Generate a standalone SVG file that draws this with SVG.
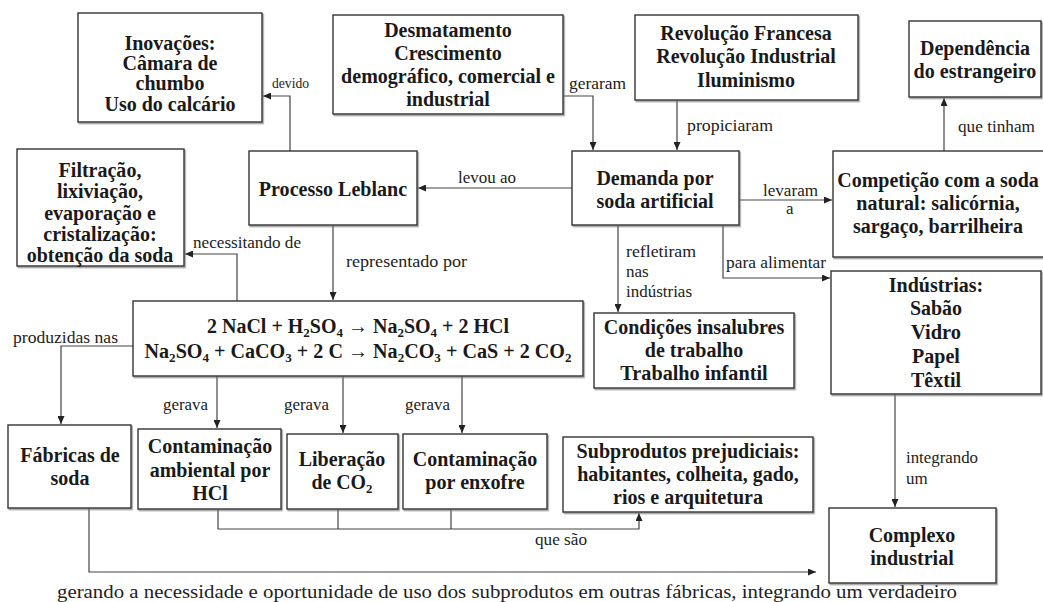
<svg xmlns="http://www.w3.org/2000/svg" width="1043" height="602" viewBox="0 0 1043 602" font-family="'Liberation Serif', serif">
<style>
.box{fill:#fff;stroke:#333;stroke-width:1.4;filter:url(#sh)}
.bt{font-family:'Liberation Serif',serif;font-weight:bold;font-size:20px;fill:#1a1a1a;text-anchor:middle}
.lb{font-family:'Liberation Serif',serif;font-size:17px;fill:#222}
.c{fill:none;stroke:#444;stroke-width:1.2}
.a{marker-end:url(#ah)}
</style>
<defs>
<marker id="ah" markerUnits="userSpaceOnUse" markerWidth="9" markerHeight="7" refX="8" refY="3.5" orient="auto">
<path d="M0,0 L8,3.5 L0,7 z" fill="#222"/>
</marker>
<filter id="sh" x="-5%" y="-5%" width="110%" height="115%">
<feDropShadow dx="1.2" dy="1.5" stdDeviation="0.7" flood-color="#777" flood-opacity="0.7"/>
</filter>
</defs>
<rect width="1043" height="602" fill="#fff"/>

<g id="connectors">
<path class="c a" d="M290,151 V96 H263"/>
<path class="c a" d="M563,96 H593 V150"/>
<path class="c a" d="M677,100 V150"/>
<path class="c a" d="M572,188 H418"/>
<path class="c a" d="M739,200 H832"/>
<path class="c a" d="M944,151 V98"/>
<path class="c a" d="M723,225 V278 H830"/>
<path class="c a" d="M618,225 V312"/>
<path class="c a" d="M333,225 V300"/>
<path class="c a" d="M237,301 V254 H185"/>
<path class="c a" d="M133,346 H61 V424"/>
<path class="c a" d="M217,376 V428"/>
<path class="c a" d="M343,376 V433"/>
<path class="c a" d="M462,376 V433"/>
<path class="c a" d="M218,509 V529 H639 V513"/>
<path class="c" d="M338,509 V529"/>
<path class="c" d="M451,509 V529"/>
<path class="c a" d="M89,508 V572 H816"/>
<path class="c a" d="M895,394 V507"/>
<text class="lb" x="272" y="88" style="font-size:14px" textLength="37" lengthAdjust="spacingAndGlyphs">devido</text>
<text class="lb" x="569" y="89" textLength="57" lengthAdjust="spacingAndGlyphs">geraram</text>
<text class="lb" x="687" y="131" textLength="86" lengthAdjust="spacingAndGlyphs">propiciaram</text>
<text class="lb" x="458" y="183" textLength="58" lengthAdjust="spacingAndGlyphs">levou ao</text>
<text class="lb" x="763" y="196" textLength="55" lengthAdjust="spacingAndGlyphs">levaram</text>
<text class="lb" x="786" y="214" textLength="7.5" lengthAdjust="spacingAndGlyphs">a</text>
<text class="lb" x="958" y="132" textLength="77" lengthAdjust="spacingAndGlyphs">que tinham</text>
<text class="lb" x="193" y="248" textLength="108" lengthAdjust="spacingAndGlyphs">necessitando  de</text>
<text class="lb" x="346" y="267" textLength="121" lengthAdjust="spacingAndGlyphs">representado  por</text>
<text class="lb" x="626" y="257" textLength="70" lengthAdjust="spacingAndGlyphs">refletiram</text>
<text class="lb" x="626" y="277" textLength="22.7" lengthAdjust="spacingAndGlyphs">nas</text>
<text class="lb" x="626" y="297" textLength="66" lengthAdjust="spacingAndGlyphs">indústrias</text>
<text class="lb" x="726" y="268" textLength="100" lengthAdjust="spacingAndGlyphs">para alimentar</text>
<text class="lb" x="13" y="343" textLength="105" lengthAdjust="spacingAndGlyphs">produzidas nas</text>
<text class="lb" x="163" y="410" textLength="45" lengthAdjust="spacingAndGlyphs">gerava</text>
<text class="lb" x="284" y="410" textLength="45" lengthAdjust="spacingAndGlyphs">gerava</text>
<text class="lb" x="405" y="410" textLength="45" lengthAdjust="spacingAndGlyphs">gerava</text>
<text class="lb" x="535" y="545" textLength="52" lengthAdjust="spacingAndGlyphs">que são</text>
<text class="lb" x="906" y="463" textLength="72" lengthAdjust="spacingAndGlyphs">integrando</text>
<text class="lb" x="906" y="484" textLength="21.7" lengthAdjust="spacingAndGlyphs">um</text>
<text class="lb" x="57" y="598" style="font-size:18px" textLength="900" lengthAdjust="spacingAndGlyphs">gerando a necessidade  e oportunidade de uso dos subprodutos em outras fábricas, integrando  um verdadeiro</text>
</g>

<g id="inovacoes">
<rect class="box" x="78" y="13" width="184" height="109"/>
<text class="bt" x="170" y="50" textLength="91.1" lengthAdjust="spacingAndGlyphs">Inovações:</text>
<text class="bt" x="170" y="70" textLength="95" lengthAdjust="spacingAndGlyphs">Câmara de</text>
<text class="bt" x="170" y="90" textLength="68.9" lengthAdjust="spacingAndGlyphs">chumbo</text>
<text class="bt" x="170" y="111" textLength="131.1" lengthAdjust="spacingAndGlyphs">Uso do calcário</text>
</g>

<g id="desmatamento">
<rect class="box" x="333" y="15" width="230" height="99"/>
<text class="bt" x="448" y="37" textLength="127.7" lengthAdjust="spacingAndGlyphs">Desmatamento</text>
<text class="bt" x="448" y="60" textLength="107.7" lengthAdjust="spacingAndGlyphs">Crescimento</text>
<text class="bt" x="448" y="83" textLength="213.8" lengthAdjust="spacingAndGlyphs">demográfico, comercial e</text>
<text class="bt" x="448" y="106" textLength="83.4" lengthAdjust="spacingAndGlyphs">industrial</text>
</g>

<g id="revolucao">
<rect class="box" x="635" y="15" width="223" height="85"/>
<text class="bt" x="746" y="40" textLength="171.6" lengthAdjust="spacingAndGlyphs">Revolução Francesa</text>
<text class="bt" x="746" y="63" textLength="179.5" lengthAdjust="spacingAndGlyphs">Revolução Industrial</text>
<text class="bt" x="746" y="87" textLength="97.8" lengthAdjust="spacingAndGlyphs">Iluminismo</text>
</g>

<g id="dependencia">
<rect class="box" x="909" y="21" width="132" height="76"/>
<text class="bt" x="975" y="55" textLength="110" lengthAdjust="spacingAndGlyphs">Dependência</text>
<text class="bt" x="975" y="78" textLength="122.8" lengthAdjust="spacingAndGlyphs">do estrangeiro</text>
</g>

<g id="filtracao">
<rect class="box" x="17" y="149" width="167" height="117"/>
<text class="bt" x="100" y="177" textLength="82.8" lengthAdjust="spacingAndGlyphs">Filtração,</text>
<text class="bt" x="100" y="198" textLength="86.1" lengthAdjust="spacingAndGlyphs">lixiviação,</text>
<text class="bt" x="100" y="220" textLength="111.6" lengthAdjust="spacingAndGlyphs">evaporação e</text>
<text class="bt" x="100" y="241" textLength="113.3" lengthAdjust="spacingAndGlyphs">cristalização:</text>
<text class="bt" x="100" y="262" textLength="146.7" lengthAdjust="spacingAndGlyphs">obtenção da soda</text>
</g>

<g id="leblanc">
<rect class="box" x="249" y="151" width="168" height="74"/>
<text class="bt" x="333" y="196" textLength="148.3" lengthAdjust="spacingAndGlyphs">Processo Leblanc</text>
</g>

<g id="demanda">
<rect class="box" x="572" y="151" width="167" height="74"/>
<text class="bt" x="655" y="185" textLength="117.2" lengthAdjust="spacingAndGlyphs">Demanda por</text>
<text class="bt" x="655" y="208" textLength="117.2" lengthAdjust="spacingAndGlyphs">soda artificial</text>
</g>

<g id="competicao">
<rect class="box" x="833" y="151" width="215" height="106"/>
<text class="bt" x="938" y="187" textLength="201.6" lengthAdjust="spacingAndGlyphs">Competição com a soda</text>
<text class="bt" x="938" y="210" textLength="163.3" lengthAdjust="spacingAndGlyphs">natural: salicórnia,</text>
<text class="bt" x="938" y="233" textLength="170" lengthAdjust="spacingAndGlyphs">sargaço, barrilheira</text>
</g>

<g id="industrias">
<rect class="box" x="831" y="271" width="210" height="123"/>
<text class="bt" x="936" y="292" textLength="94.5" lengthAdjust="spacingAndGlyphs">Indústrias:</text>
<text class="bt" x="936" y="315" textLength="52.2" lengthAdjust="spacingAndGlyphs">Sabão</text>
<text class="bt" x="936" y="339" textLength="50" lengthAdjust="spacingAndGlyphs">Vidro</text>
<text class="bt" x="936" y="363" textLength="47.8" lengthAdjust="spacingAndGlyphs">Papel</text>
<text class="bt" x="936" y="387" textLength="50" lengthAdjust="spacingAndGlyphs">Têxtil</text>
</g>

<g id="condicoes">
<rect class="box" x="594" y="313" width="200" height="75"/>
<text class="bt" x="694" y="334" textLength="180.6" lengthAdjust="spacingAndGlyphs">Condições insalubres</text>
<text class="bt" x="694" y="357" textLength="98.3" lengthAdjust="spacingAndGlyphs">de trabalho</text>
<text class="bt" x="694" y="380" textLength="147.3" lengthAdjust="spacingAndGlyphs">Trabalho infantil</text>
</g>

<g id="equacoes">
<rect class="box" x="133" y="301" width="450" height="75"/>
<text class="bt" x="358" y="333" textLength="302" lengthAdjust="spacingAndGlyphs">2 NaCl + H<tspan font-size="13" dy="4">2</tspan><tspan dy="-4">SO</tspan><tspan font-size="13" dy="4">4</tspan><tspan dy="-4"> → Na</tspan><tspan font-size="13" dy="4">2</tspan><tspan dy="-4">SO</tspan><tspan font-size="13" dy="4">4</tspan><tspan dy="-4"> + 2 HCl</tspan></text>
<text class="bt" x="358" y="358" textLength="427" lengthAdjust="spacingAndGlyphs">Na<tspan font-size="13" dy="4">2</tspan><tspan dy="-4">SO</tspan><tspan font-size="13" dy="4">4</tspan><tspan dy="-4"> + CaCO</tspan><tspan font-size="13" dy="4">3</tspan><tspan dy="-4"> + 2 C → Na</tspan><tspan font-size="13" dy="4">2</tspan><tspan dy="-4">CO</tspan><tspan font-size="13" dy="4">3</tspan><tspan dy="-4"> + CaS + 2 CO</tspan><tspan font-size="13" dy="4">2</tspan></text>
</g>

<g id="fabricas">
<rect class="box" x="8" y="425" width="123" height="83"/>
<text class="bt" x="70" y="462" textLength="99.4" lengthAdjust="spacingAndGlyphs">Fábricas de</text>
<text class="bt" x="70" y="485" textLength="38.9" lengthAdjust="spacingAndGlyphs">soda</text>
</g>

<g id="hcl">
<rect class="box" x="138" y="429" width="143" height="80"/>
<text class="bt" x="210" y="453" textLength="124.4" lengthAdjust="spacingAndGlyphs">Contaminação</text>
<text class="bt" x="210" y="477" textLength="120.6" lengthAdjust="spacingAndGlyphs">ambiental por</text>
<text class="bt" x="210" y="500" textLength="35.6" lengthAdjust="spacingAndGlyphs">HCl</text>
</g>

<g id="liberacao">
<rect class="box" x="287" y="434" width="111" height="75"/>
<text class="bt" x="342" y="466" textLength="86.7" lengthAdjust="spacingAndGlyphs">Liberação</text>
<text class="bt" x="342" y="489" textLength="61" lengthAdjust="spacingAndGlyphs">de CO<tspan font-size="13" dy="4">2</tspan></text>
</g>

<g id="enxofre">
<rect class="box" x="403" y="434" width="144" height="75"/>
<text class="bt" x="475" y="466" textLength="124.4" lengthAdjust="spacingAndGlyphs">Contaminação</text>
<text class="bt" x="475" y="489" textLength="99.4" lengthAdjust="spacingAndGlyphs">por enxofre</text>
</g>

<g id="subprodutos">
<rect class="box" x="563" y="437" width="250" height="75"/>
<text class="bt" x="688" y="458" textLength="222.8" lengthAdjust="spacingAndGlyphs">Subprodutos prejudiciais:</text>
<text class="bt" x="688" y="481" textLength="221.7" lengthAdjust="spacingAndGlyphs">habitantes, colheita, gado,</text>
<text class="bt" x="688" y="504" textLength="150" lengthAdjust="spacingAndGlyphs">rios e arquitetura</text>
</g>

<g id="complexo">
<rect class="box" x="829" y="508" width="167" height="75"/>
<text class="bt" x="912" y="542" textLength="86.7" lengthAdjust="spacingAndGlyphs">Complexo</text>
<text class="bt" x="912" y="565" textLength="83.4" lengthAdjust="spacingAndGlyphs">industrial</text>
</g>
</svg>
